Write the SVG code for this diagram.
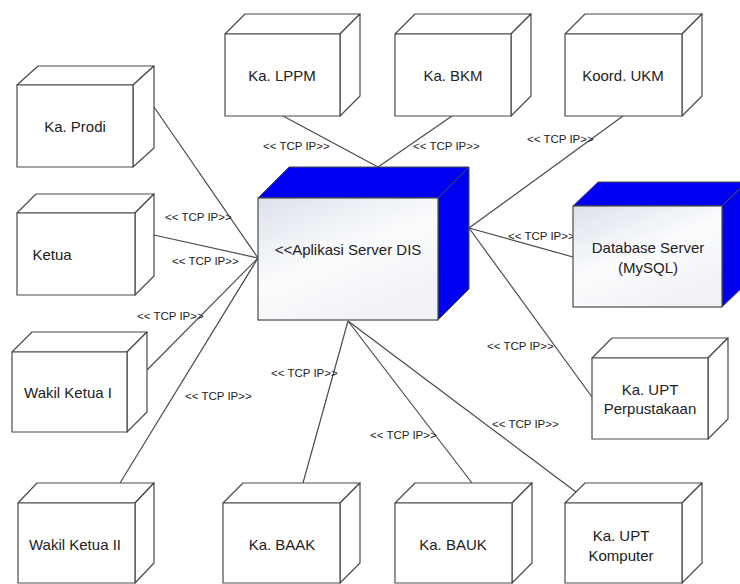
<svg xmlns="http://www.w3.org/2000/svg" width="740" height="584" viewBox="0 0 740 584">
<defs>
<linearGradient id="srv" x1="0" y1="0" x2="0.6" y2="1">
<stop offset="0" stop-color="#dce2ec"/>
<stop offset="0.55" stop-color="#fbfcfd"/>
<stop offset="1" stop-color="#f0f2f6"/>
</linearGradient>
<style>
.box{fill:#ffffff;stroke:#4a4a4a;stroke-width:1.2;stroke-linejoin:round}
.sbox{fill:url(#srv);stroke:#4a4a4a;stroke-width:1.2}
.blue{fill:#0000f2;stroke:#4a4a4a;stroke-width:1}
.lbl{font-family:"Liberation Sans",Arial,sans-serif;font-size:15px;fill:#222;text-anchor:middle}
.tcp{font-family:"Liberation Sans",Arial,sans-serif;font-size:11.5px;fill:#222}
.conn line{stroke:#4a4a4a;stroke-width:1.2}
</style>
</defs>
<rect width="740" height="584" fill="#ffffff"/>
<g id="connectors" class="conn">
<line x1="154" y1="107" x2="258" y2="258"/>
<line x1="154" y1="235" x2="258" y2="258"/>
<line x1="147" y1="370" x2="258" y2="258"/>
<line x1="120" y1="483" x2="258" y2="258"/>
<line x1="283" y1="116" x2="378" y2="167"/>
<line x1="452" y1="116" x2="378" y2="167"/>
<line x1="623" y1="116" x2="469" y2="228"/>
<line x1="469" y1="228" x2="573" y2="257"/>
<line x1="469" y1="228" x2="592" y2="397"/>
<line x1="348" y1="321" x2="303" y2="483"/>
<line x1="348" y1="321" x2="472" y2="483"/>
<line x1="348" y1="321" x2="576" y2="492"/>
</g>
<g id="connector-labels">
<text class="tcp" x="263" y="150">&lt;&lt; TCP IP&gt;&gt;</text>
<text class="tcp" x="413" y="150">&lt;&lt; TCP IP&gt;&gt;</text>
<text class="tcp" x="527" y="143">&lt;&lt; TCP IP&gt;&gt;</text>
<text class="tcp" x="165" y="221">&lt;&lt; TCP IP&gt;&gt;</text>
<text class="tcp" x="172" y="265">&lt;&lt; TCP IP&gt;&gt;</text>
<text class="tcp" x="137" y="320">&lt;&lt; TCP IP&gt;&gt;</text>
<text class="tcp" x="185" y="400">&lt;&lt; TCP IP&gt;&gt;</text>
<text class="tcp" x="508" y="240">&lt;&lt; TCP IP&gt;&gt;</text>
<text class="tcp" x="487" y="350">&lt;&lt; TCP IP&gt;&gt;</text>
<text class="tcp" x="271" y="377">&lt;&lt; TCP IP&gt;&gt;</text>
<text class="tcp" x="370" y="439">&lt;&lt; TCP IP&gt;&gt;</text>
<text class="tcp" x="492" y="428">&lt;&lt; TCP IP&gt;&gt;</text>
</g>
<g id="ka-prodi">
<polygon class="box" points="17,85 38,66 154,66 133,85"/>
<polygon class="box" points="133,85 154,66 154,148 133,167"/>
<rect class="box" x="17" y="85" width="116" height="82"/>
<text class="lbl" x="75" y="132">Ka. Prodi</text>
</g>
<g id="ka-lppm">
<polygon class="box" points="225,34 245,14 360,14 340,34"/>
<polygon class="box" points="340,34 360,14 360,96 340,116"/>
<rect class="box" x="225" y="34" width="115" height="82"/>
<text class="lbl" x="282" y="81">Ka. LPPM</text>
</g>
<g id="ka-bkm">
<polygon class="box" points="395,34 415,14 531,14 511,34"/>
<polygon class="box" points="511,34 531,14 531,96 511,116"/>
<rect class="box" x="395" y="34" width="116" height="82"/>
<text class="lbl" x="453" y="81">Ka. BKM</text>
</g>
<g id="koord-ukm">
<polygon class="box" points="565,34 585,14 702,14 682,34"/>
<polygon class="box" points="682,34 702,14 702,96 682,116"/>
<rect class="box" x="565" y="34" width="117" height="82"/>
<text class="lbl" x="623" y="81">Koord. UKM</text>
</g>
<g id="ketua">
<polygon class="box" points="17,213 36,194 154,194 135,213"/>
<polygon class="box" points="135,213 154,194 154,276 135,295"/>
<rect class="box" x="17" y="213" width="118" height="82"/>
<text class="lbl" x="52" y="260">Ketua</text>
</g>
<g id="wakil-ketua-1">
<polygon class="box" points="12,352 32,332 147,332 127,352"/>
<polygon class="box" points="127,352 147,332 147,412 127,432"/>
<rect class="box" x="12" y="352" width="115" height="80"/>
<text class="lbl" x="68" y="398">Wakil Ketua I</text>
</g>
<g id="wakil-ketua-2">
<polygon class="box" points="18,503 37,483 154,483 135,503"/>
<polygon class="box" points="135,503 154,483 154,563 135,583"/>
<rect class="box" x="18" y="503" width="117" height="80"/>
<text class="lbl" x="75" y="550">Wakil Ketua II</text>
</g>
<g id="ka-baak">
<polygon class="box" points="223,503 243,483 360,483 340,503"/>
<polygon class="box" points="340,503 360,483 360,563 340,583"/>
<rect class="box" x="223" y="503" width="117" height="80"/>
<text class="lbl" x="282" y="550">Ka. BAAK</text>
</g>
<g id="ka-bauk">
<polygon class="box" points="395,503 415,483 532,483 512,503"/>
<polygon class="box" points="512,503 532,483 532,563 512,583"/>
<rect class="box" x="395" y="503" width="117" height="80"/>
<text class="lbl" x="453" y="550">Ka. BAUK</text>
</g>
<g id="ka-upt-komputer">
<polygon class="box" points="565,503 585,483 702,483 682,503"/>
<polygon class="box" points="682,503 702,483 702,563 682,583"/>
<rect class="box" x="565" y="503" width="117" height="80"/>
<text class="lbl" x="621" y="541">Ka. UPT</text>
<text class="lbl" x="621" y="561">Komputer</text>
</g>
<g id="ka-upt-perpustakaan">
<polygon class="box" points="592,358 612,338 728,338 708,358"/>
<polygon class="box" points="708,358 728,338 728,419 708,439"/>
<rect class="box" x="592" y="358" width="116" height="81"/>
<text class="lbl" x="650" y="395">Ka. UPT</text>
<text class="lbl" x="650" y="414">Perpustakaan</text>
</g>
<g id="aplikasi-server-dis">
<polygon class="blue" points="258,198 289,167 469,167 438,198"/>
<polygon class="blue" points="438,198 469,167 469,289 438,320"/>
<rect class="sbox" x="258" y="198" width="180" height="122"/>
<text class="lbl" x="348" y="255">&lt;&lt;Aplikasi Server DIS</text>
</g>
<g id="database-server">
<polygon class="blue" points="573,206 598,182 747,182 722,206"/>
<polygon class="blue" points="722,206 747,182 747,283 722,307"/>
<rect class="sbox" x="573" y="206" width="149" height="101"/>
<text class="lbl" x="648" y="253">Database Server</text>
<text class="lbl" x="648" y="273">(MySQL)</text>
</g>
</svg>
